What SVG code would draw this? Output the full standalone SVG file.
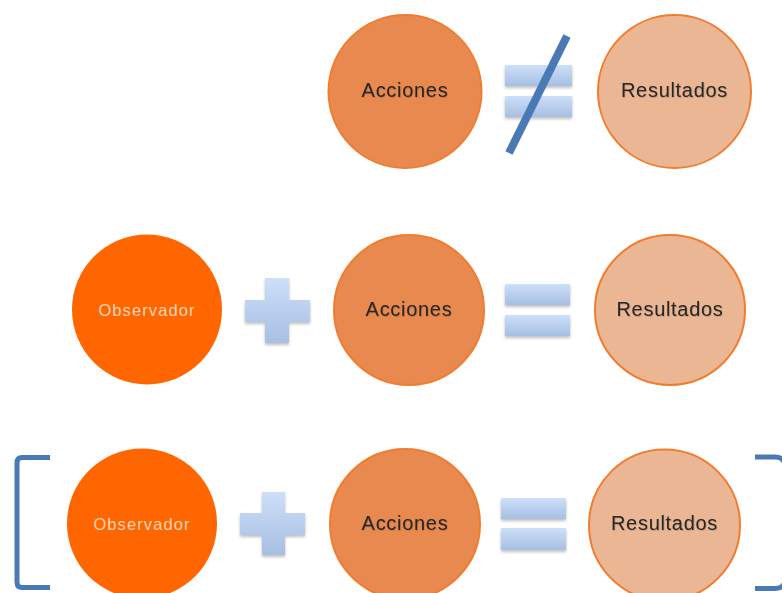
<svg xmlns="http://www.w3.org/2000/svg" width="782" height="593" viewBox="0 0 782 593">
  <defs>
    <linearGradient id="barGrad" x1="0" y1="0" x2="0" y2="1">
      <stop offset="0" stop-color="#cddff9"/>
      <stop offset="1" stop-color="#a7bfe3"/>
    </linearGradient>
    <filter id="soft" x="-20%" y="-20%" width="140%" height="150%">
      <feDropShadow dx="0" dy="2" stdDeviation="1.5" flood-color="#000" flood-opacity="0.25"/>
    </filter>
    <filter id="txtShadow" x="-10%" y="-30%" width="120%" height="160%">
      <feDropShadow dx="0.6" dy="0.8" stdDeviation="0.7" flood-color="#000" flood-opacity="0.2"/>
    </filter>
  </defs>
  <style>
    .acc { fill: #e88a4f; stroke: #f27c2e; stroke-width: 2; }
    .res { fill: #ebb694; stroke: #f27c2e; stroke-width: 2; }
    .obs { fill: #ff6600; }
    .lbl { font-family: "Liberation Sans", Arial, sans-serif; font-size: 20px; fill: #262626; text-anchor: middle; dominant-baseline: central; letter-spacing: 0.7px; }
    .lblObs { font-family: "Liberation Sans", Arial, sans-serif; font-size: 16.5px; fill: #fbd4b6; text-anchor: middle; dominant-baseline: central; letter-spacing: 1.1px; }
    .bar { fill: url(#barGrad); filter: url(#soft); }
    .blue { stroke: #4a7ab6; fill: none; }
  </style>

  <rect width="782" height="593" fill="#ffffff"/>

  <!-- Row 1: Acciones ≠ Resultados -->
  <g id="row1-acciones">
    <circle class="acc" cx="405" cy="91.5" r="76.5"/>
    <text class="lbl" x="405" y="90" filter="url(#txtShadow)">Acciones</text>
  </g>
  <g id="row1-noteq">
    <rect class="bar" x="505" y="65" width="67" height="21"/>
    <rect class="bar" x="505" y="96" width="67" height="21"/>
    <line class="blue" x1="567" y1="36" x2="509" y2="153" stroke-width="8"/>
  </g>
  <g id="row1-resultados">
    <circle class="res" cx="674.5" cy="91.5" r="76.5"/>
    <text class="lbl" x="674.5" y="90" filter="url(#txtShadow)">Resultados</text>
  </g>

  <!-- Row 2: Observador + Acciones = Resultados -->
  <g id="row2-observador">
    <circle class="obs" cx="147" cy="309.5" r="75"/>
    <text class="lblObs" x="147" y="310">Observador</text>
  </g>
  <g id="row2-plus">
    <path class="bar" d="M265 278 H289 V300 H310 V322 H289 V343 H265 V322 H245 V300 H265 Z"/>
  </g>
  <g id="row2-acciones">
    <circle class="acc" cx="409" cy="310" r="75"/>
    <text class="lbl" x="409" y="309" filter="url(#txtShadow)">Acciones</text>
  </g>
  <g id="row2-equals">
    <rect class="bar" x="505" y="284" width="65" height="21"/>
    <rect class="bar" x="505" y="315" width="65" height="21"/>
  </g>
  <g id="row2-resultados">
    <circle class="res" cx="670" cy="310" r="75"/>
    <text class="lbl" x="670" y="309" filter="url(#txtShadow)">Resultados</text>
  </g>

  <!-- Row 3: [ Observador + Acciones = Resultados ] -->
  <g id="row3-bracket-left">
    <path class="blue" stroke-width="5" d="M50 457.5 H22 Q17 457.5 17 463 V582 Q17 587.5 22 587.5 H50"/>
  </g>
  <g id="row3-observador">
    <circle class="obs" cx="142" cy="523.5" r="75"/>
    <text class="lblObs" x="142" y="524">Observador</text>
  </g>
  <g id="row3-plus">
    <path class="bar" d="M262 492 H285 V513 H305 V535 H285 V555 H262 V535 H240 V513 H262 Z"/>
  </g>
  <g id="row3-acciones">
    <circle class="acc" cx="405" cy="524" r="75"/>
    <text class="lbl" x="405" y="523" filter="url(#txtShadow)">Acciones</text>
  </g>
  <g id="row3-equals">
    <rect class="bar" x="501" y="498" width="65" height="21"/>
    <rect class="bar" x="501" y="528" width="65" height="22"/>
  </g>
  <g id="row3-resultados">
    <circle class="res" cx="664.5" cy="525" r="75.5"/>
    <text class="lbl" x="664.5" y="523" filter="url(#txtShadow)">Resultados</text>
  </g>
  <g id="row3-bracket-right">
    <path class="blue" stroke-width="5" d="M755 457 H775 Q782 457 784 462 M755 588.5 H775 Q782 588.5 784 584"/>
  </g>
</svg>
